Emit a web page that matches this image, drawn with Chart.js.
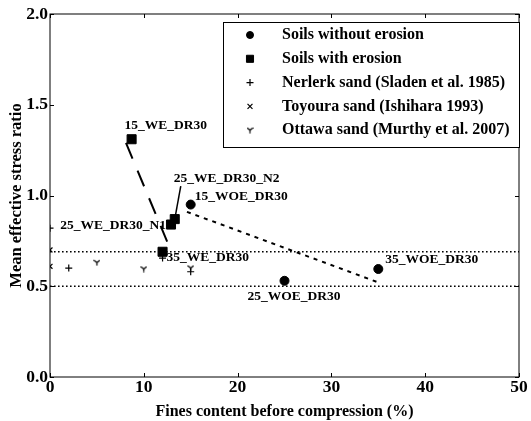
<!DOCTYPE html>
<html>
<head>
<meta charset="utf-8">
<script src="https://cdn.jsdelivr.net/npm/chart.js@4.4.1/dist/chart.umd.min.js"></script>
<style>
  html, body { margin: 0; padding: 0; background: #fff; }
  #wrap { width: 531px; height: 421px; }
</style>
</head>
<body>
<div id="wrap"><canvas id="plot"></canvas></div>
<script>
// fines content (%) and mean effective stress ratio
var woeFines = [15, 25, 35];
var woeRatio = [0.95, 0.53, 0.595];
var woeNames = ['15_WOE_DR30', '25_WOE_DR30', '35_WOE_DR30'];

var weFines = [8.7, 12.9, 13.3, 12.0];
var weRatio = [1.31, 0.84, 0.87, 0.69];
var weNames = ['15_WE_DR30', '25_WE_DR30_N1', '25_WE_DR30_N2', '35_WE_DR30'];

var nerlerkFines = [0, 2, 12, 15];
var nerlerkRatio = [0.82, 0.60, 0.655, 0.58];

var toyouraFines = [0, 0];
var toyouraRatio = [0.70, 0.61];

var ottawaFines = [5, 10, 15];
var ottawaRatio = [0.63, 0.595, 0.60];

// trend lines and bounds
var weTrendX = [8.1, 12.7];
var weTrendY = [1.29, 0.72];
var woeTrendX = [14.6, 34.8];
var woeTrendY = [0.91, 0.525];
var boundX = [0, 50];
var upperBound = 0.69;
var lowerBound = 0.50;

var xTicks = [0, 10, 20, 30, 40, 50];
var yTicks = [0, 0.5, 1.0, 1.5, 2.0];

function pts(xs, ys) {
    return xs.map(function (x, i) { return { x: x, y: ys[i] }; });
}

// little "Y" marker (tri_down)
function triDown(size) {
    var c = document.createElement('canvas');
    c.width = size; c.height = size;
    var g = c.getContext('2d');
    var m = size / 2;
    g.strokeStyle = '#000';
    g.lineWidth = 1.2;
    g.beginPath();
    g.moveTo(m, m); g.lineTo(m, size - 0.5);
    g.moveTo(m, m); g.lineTo(0.5, 1);
    g.moveTo(m, m); g.lineTo(size - 0.5, 1);
    g.stroke();
    return c;
}
var triMark = triDown(7);

var serif = '"Liberation Serif", "Times New Roman", serif';

// label offsets in pixels from each point
var weLabelPos = [
    { dx: -7, dy: -14, align: 'left' },
    { dx: -5, dy: 1, align: 'right' },
    { dx: -1, dy: -41, align: 'left', leader: [6, -33] },
    { dx: 4, dy: 6, align: 'left' }
];
var woeLabelPos = [
    { dx: 4, dy: -8, align: 'left' },
    { dx: -37, dy: 16, align: 'left' },
    { dx: 7, dy: -9, align: 'left' }
];

var frame = {
    id: 'frame',
    afterDraw: function (chart) {
        var ctx = chart.ctx, a = chart.chartArea;
        var xs = chart.scales.x, ys = chart.scales.y;
        ctx.save();
        ctx.strokeStyle = '#000';
        ctx.lineWidth = 1;
        ctx.strokeRect(a.left, a.top, a.right - a.left, a.bottom - a.top);
        ctx.beginPath();
        xTicks.forEach(function (v) {
            var px = Math.round(xs.getPixelForValue(v)) + 0.5;
            ctx.moveTo(px, a.bottom); ctx.lineTo(px, a.bottom - 4);
            ctx.moveTo(px, a.top); ctx.lineTo(px, a.top + 4);
        });
        yTicks.forEach(function (v) {
            var py = Math.round(ys.getPixelForValue(v)) + 0.5;
            ctx.moveTo(a.left, py); ctx.lineTo(a.left + 4, py);
            ctx.moveTo(a.right, py); ctx.lineTo(a.right - 4, py);
        });
        ctx.stroke();

        // point labels
        ctx.fillStyle = '#000';
        ctx.font = 'bold 13.5px ' + serif;
        ctx.textBaseline = 'middle';
        function labels(xsData, ysData, names, pos) {
            names.forEach(function (n, i) {
                var px = xs.getPixelForValue(xsData[i]);
                var py = ys.getPixelForValue(ysData[i]);
                var p = pos[i];
                ctx.textAlign = p.align;
                ctx.fillText(n, px + p.dx, py + p.dy);
                if (p.leader) {
                    ctx.beginPath();
                    ctx.lineWidth = 1.5;
                    ctx.moveTo(px, py);
                    ctx.lineTo(px + p.leader[0], py + p.leader[1]);
                    ctx.stroke();
                }
            });
        }
        labels(weFines, weRatio, weNames, weLabelPos);
        labels(woeFines, woeRatio, woeNames, woeLabelPos);

        // legend box
        var bx = 223, by = 22, bw = 296, bh = 125;
        ctx.fillStyle = '#fff';
        ctx.fillRect(bx, by, bw, bh);
        ctx.lineWidth = 1;
        ctx.strokeRect(bx + 0.5, by + 0.5, bw, bh);
        ctx.font = 'bold 16px ' + serif;
        ctx.textAlign = 'left';
        var row = 0;
        chart.data.datasets.forEach(function (ds) {
            if (!ds.inLegend) return;
            var y = 35 + row * 23.8;
            ctx.fillStyle = '#000';
            ctx.strokeStyle = '#000';
            ctx.lineWidth = ds.borderWidth || 1;
            Chart.helpers.drawPoint(ctx, {
                pointStyle: ds.pointStyle,
                radius: ds.legendRadius,
                rotation: 0,
                borderWidth: ds.borderWidth || 1
            }, 250, y);
            ctx.fillStyle = '#000';
            ctx.fillText(ds.label, 282, y);
            row++;
        });
        ctx.restore();
    }
};

var layout = {
    type: 'scatter',
    data: {
        datasets: [
            {
                label: 'Soils without erosion', inLegend: true,
                data: pts(woeFines, woeRatio),
                pointStyle: 'circle', pointRadius: 4.5, legendRadius: 3.5,
                backgroundColor: '#000', borderColor: '#000', borderWidth: 1
            },
            {
                label: 'Soils with erosion', inLegend: true,
                data: pts(weFines, weRatio),
                pointStyle: 'rect', pointRadius: 6.4, legendRadius: 5,
                backgroundColor: '#000', borderColor: '#000', borderWidth: 1
            },
            {
                label: 'Nerlerk sand (Sladen et al. 1985)', inLegend: true,
                data: pts(nerlerkFines, nerlerkRatio), clip: 0,
                pointStyle: 'cross', pointRadius: 3.5, legendRadius: 3.5,
                backgroundColor: '#000', borderColor: '#000', borderWidth: 1.2
            },
            {
                label: 'Toyoura sand (Ishihara 1993)', inLegend: true,
                data: pts(toyouraFines, toyouraRatio), clip: 0,
                pointStyle: 'crossRot', pointRadius: 3.5, legendRadius: 3.5,
                backgroundColor: '#000', borderColor: '#000', borderWidth: 1.2
            },
            {
                label: 'Ottawa sand (Murthy et al. 2007)', inLegend: true,
                data: pts(ottawaFines, ottawaRatio),
                pointStyle: triMark, pointRadius: 3.5, legendRadius: 3.5,
                backgroundColor: '#000', borderColor: '#000', borderWidth: 1
            },
            {
                label: 'we trend', data: pts(weTrendX, weTrendY),
                showLine: true, pointRadius: 0, borderColor: '#000',
                borderWidth: 2, borderDash: [17, 13]
            },
            {
                label: 'woe trend', data: pts(woeTrendX, woeTrendY),
                showLine: true, pointRadius: 0, borderColor: '#000',
                borderWidth: 2, borderDash: [4, 5]
            },
            {
                label: 'upper', data: pts(boundX, [upperBound, upperBound]),
                showLine: true, pointRadius: 0, borderColor: '#000',
                borderWidth: 1.6, borderDash: [1.6, 2.4]
            },
            {
                label: 'lower', data: pts(boundX, [lowerBound, lowerBound]),
                showLine: true, pointRadius: 0, borderColor: '#000',
                borderWidth: 1.6, borderDash: [1.6, 2.4]
            }
        ]
    },
    options: {
        responsive: true,
        maintainAspectRatio: false,
        animation: false,
        layout: { padding: { top: 14, right: 12, left: 0, bottom: 0 } },
        plugins: {
            legend: { display: false },
            tooltip: { enabled: false }
        },
        scales: {
            x: {
                type: 'linear', min: 0, max: 50,
                afterBuildTicks: function (s) { s.ticks = xTicks.map(function (v) { return { value: v }; }); },
                afterFit: function (s) { s.height = 44; },
                grid: { display: false, drawTicks: false },
                border: { display: false },
                ticks: {
                    color: '#000', padding: 0,
                    font: { family: serif, size: 17.5, weight: 'bold' }
                },
                title: {
                    display: true, text: 'Fines content before compression (%)',
                    color: '#000', padding: { top: 0, bottom: 0 },
                    font: { family: serif, size: 16, weight: 'bold' }
                }
            },
            y: {
                type: 'linear', min: 0, max: 2,
                afterBuildTicks: function (s) { s.ticks = yTicks.map(function (v) { return { value: v }; }); },
                afterFit: function (s) { s.width = 50; },
                grid: { display: false, drawTicks: false },
                border: { display: false },
                ticks: {
                    color: '#000', padding: 2,
                    font: { family: serif, size: 17.5, weight: 'bold' },
                    callback: function (v) { return v.toFixed(1); }
                },
                title: {
                    display: true, text: 'Mean effective stress ratio',
                    color: '#000', padding: { top: 7, bottom: 0 },
                    font: { family: serif, size: 16.5, weight: 'bold' }
                }
            }
        }
    },
    plugins: [frame]
};

new Chart(document.getElementById('plot'), layout);
</script>
</body>
</html>
